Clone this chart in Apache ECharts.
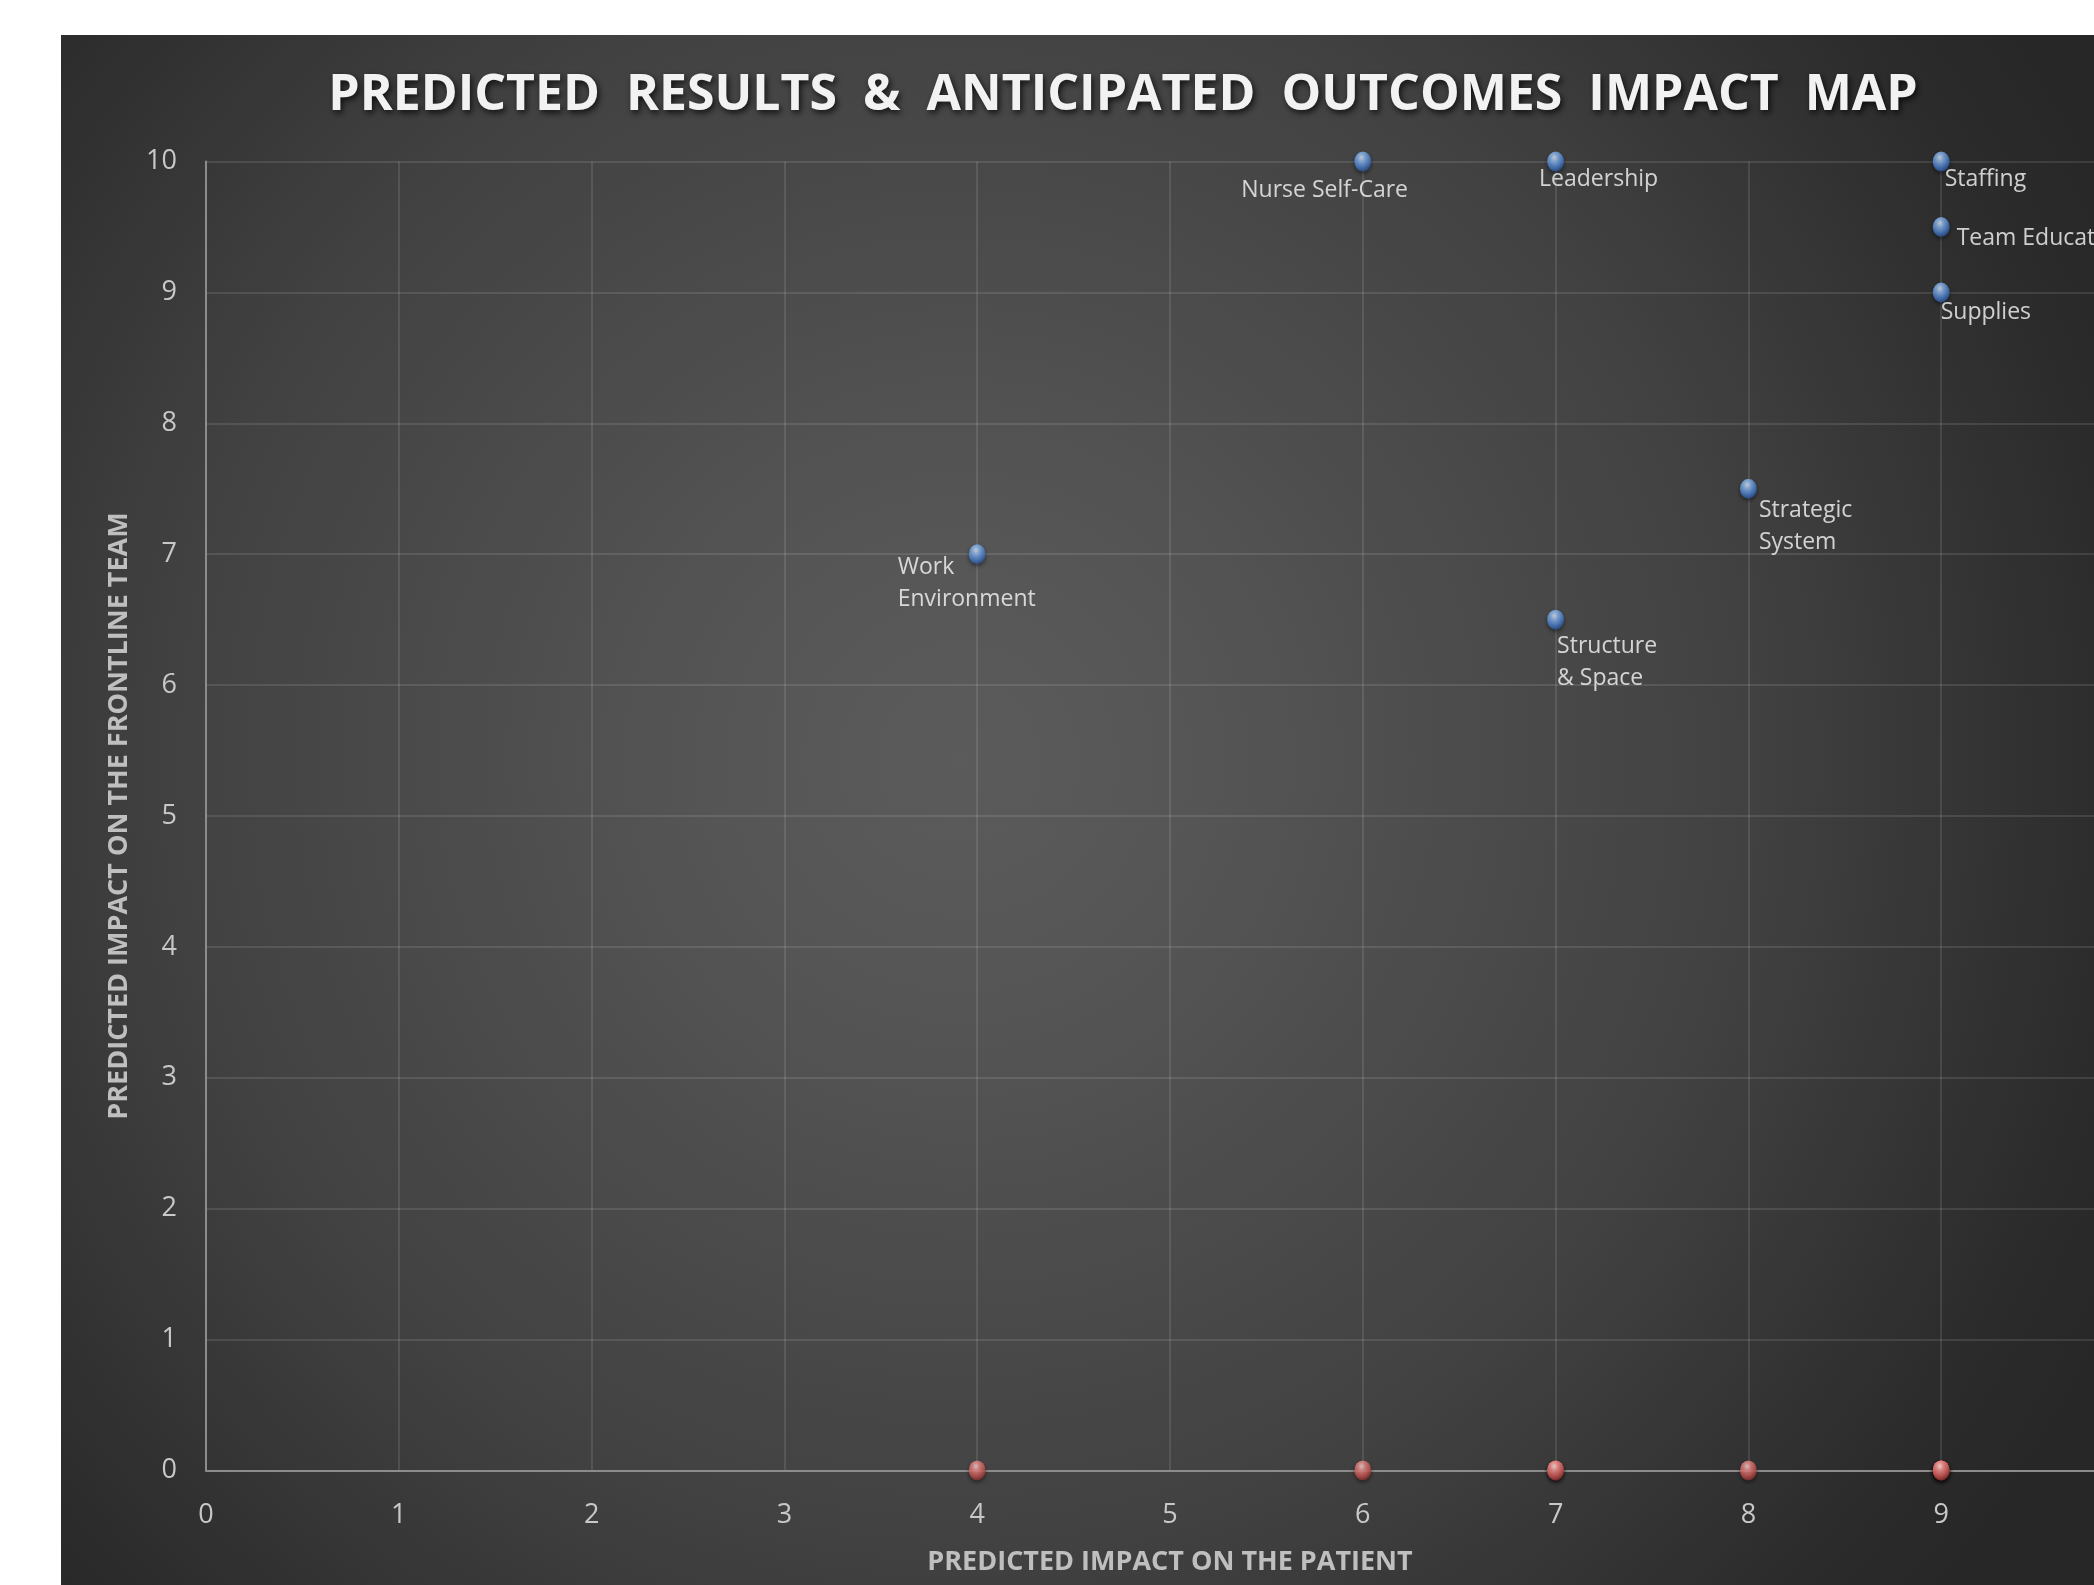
<!DOCTYPE html>
<html>
<head>
<meta charset="utf-8">
<script src="https://cdn.jsdelivr.net/npm/echarts@6/dist/echarts.min.js"></script>
<style>
  html, body { margin: 0; padding: 0; background: #ffffff; overflow: hidden; }
  #chart { width: 2094px; height: 1585px; }
</style>
</head>
<body>
<div id="chart"></div>
<script>
// ---- Data ----
const factors = ['Work Environment', 'Nurse Self-Care', 'Leadership', 'Staffing', 'Team Education', 'Supplies', 'Strategic System', 'Structure & Space'];
const pointLabels = ['Work\nEnvironment', 'Nurse Self-Care', 'Leadership', 'Staffing', 'Team Education', 'Supplies', 'Strategic\nSystem', 'Structure\n& Space'];
const patientImpact = [4, 6, 7, 9, 9, 9, 8, 7];
const frontlineImpact = [7, 10, 10, 10, 9.5, 9, 7.5, 6.5];
const patientBaseline = [0, 0, 0, 0, 0, 0, 0, 0];
const xTicks = [0, 1, 2, 3, 4, 5, 6, 7, 8, 9, 10];
const yTicks = [0, 1, 2, 3, 4, 5, 6, 7, 8, 9, 10];
const chartTitle = 'PREDICTED  RESULTS  &  ANTICIPATED  OUTCOMES  IMPACT  MAP';
const xAxisTitle = 'PREDICTED IMPACT ON THE PATIENT';
const yAxisTitle = 'PREDICTED IMPACT ON THE FRONTLINE TEAM';

// ---- Styles (label placement per point, in pixels relative to marker) ----
const labelPlacement = {
  'Work Environment': [-71, 7],
  'Nurse Self-Care': [-113, 23],
  'Leadership': [-8, 12],
  'Staffing': [12, 12],
  'Team Education': [24, 5],
  'Supplies': [8, 14],
  'Strategic System': [19, 16],
  'Structure & Space': [10, 21]
};

const FONT = '"Open Sans", "Noto Sans", sans-serif';

const blueBall = {
  type: 'radial', x: 0.42, y: 0.3, r: 0.72,
  colorStops: [
    { offset: 0, color: '#e4f0ff' },
    { offset: 0.3, color: '#8fbaf2' },
    { offset: 0.7, color: '#4a7fcc' },
    { offset: 1, color: '#274a86' }
  ]
};
const redBall = {
  type: 'radial', x: 0.42, y: 0.3, r: 0.72,
  colorStops: [
    { offset: 0, color: '#ffe0df' },
    { offset: 0.3, color: '#ee8e8b' },
    { offset: 0.7, color: '#c45552' },
    { offset: 1, color: '#7a2a28' }
  ]
};

const blueData = factors.map((name, i) => ({
  name: name,
  value: [patientImpact[i], frontlineImpact[i]],
  label: { position: labelPlacement[name] }
}));
const redData = factors.map((name, i) => ({
  name: name,
  value: [patientImpact[i], patientBaseline[i]]
}));

const chart = echarts.init(document.getElementById('chart'), null, { renderer: 'canvas' });

const option = {
  animation: false,
  backgroundColor: '#ffffff',
  graphic: [{
    type: 'rect',
    z: -10,
    silent: true,
    shape: { x: 61, y: 35, width: 2094 - 61, height: 1585 - 35 },
    style: {
      fill: new echarts.graphic.RadialGradient(960, 760, 1280, [
        { offset: 0, color: '#5b5b5b' },
        { offset: 0.2, color: '#555555' },
        { offset: 0.62, color: '#414141' },
        { offset: 0.9, color: '#2c2c2c' },
        { offset: 1, color: '#272727' }
      ], true)
    }
  }],
  title: {
    text: chartTitle,
    left: 1118,
    top: 66,
    textAlign: 'center',
    textStyle: {
      fontFamily: FONT,
      fontWeight: 'bold',
      fontSize: 50,
      color: '#f2f2f2',
      textShadowColor: 'rgba(0,0,0,0.75)',
      textShadowBlur: 6,
      textShadowOffsetX: 2,
      textShadowOffsetY: 3
    }
  },
  grid: {
    left: 206,
    top: 161.6,
    width: 1928,
    height: 1308.8,
    containLabel: false,
    outerBoundsMode: 'none'
  },
  xAxis: {
    type: 'value',
    min: xTicks[0],
    max: xTicks[xTicks.length - 1],
    interval: 1,
    name: xAxisTitle,
    nameLocation: 'middle',
    nameGap: 78,
    nameTextStyle: {
      fontFamily: FONT, fontWeight: 'bold', fontSize: 27, color: '#bfbfbf'
    },
    axisLine: { show: true, onZero: false, lineStyle: { color: '#8c8c8c', width: 2 } },
    axisTick: { show: false },
    axisLabel: {
      margin: 31, fontFamily: FONT, fontSize: 27, color: '#c8c8c8'
    },
    splitLine: { show: true, lineStyle: { color: 'rgba(255,255,255,0.14)', width: 1.5 } }
  },
  yAxis: {
    type: 'value',
    min: yTicks[0],
    max: yTicks[yTicks.length - 1],
    interval: 1,
    name: yAxisTitle,
    nameLocation: 'middle',
    nameGap: 73,
    nameRotate: 90,
    nameTextStyle: {
      fontFamily: FONT, fontWeight: 'bold', fontSize: 27, color: '#bfbfbf'
    },
    axisLine: { show: true, onZero: false, lineStyle: { color: '#8c8c8c', width: 2 } },
    axisTick: { show: false },
    axisLabel: {
      margin: 29, fontFamily: FONT, fontSize: 27, color: '#c8c8c8'
    },
    splitLine: { show: true, lineStyle: { color: 'rgba(255,255,255,0.14)', width: 1.5 } }
  },
  series: [
    {
      name: 'Frontline Team',
      type: 'scatter',
      symbol: 'circle',
      symbolSize: [17, 20],
      z: 5,
      itemStyle: {
        color: blueBall,
        shadowColor: 'rgba(0,0,0,0.6)',
        shadowBlur: 4,
        shadowOffsetY: 2
      },
      label: {
        show: true,
        formatter: (p) => pointLabels[p.dataIndex],
        align: 'left',
        verticalAlign: 'top',
        fontFamily: FONT,
        fontSize: 23,
        lineHeight: 32,
        color: '#f8f8f8'
      },
      data: blueData
    },
    {
      name: 'Patient',
      type: 'scatter',
      symbol: 'circle',
      symbolSize: [17, 20],
      z: 5,
      itemStyle: {
        color: redBall,
        shadowColor: 'rgba(0,0,0,0.6)',
        shadowBlur: 4,
        shadowOffsetY: 2
      },
      data: redData
    }
  ]
};

chart.setOption(option);
</script>
</body>
</html>
